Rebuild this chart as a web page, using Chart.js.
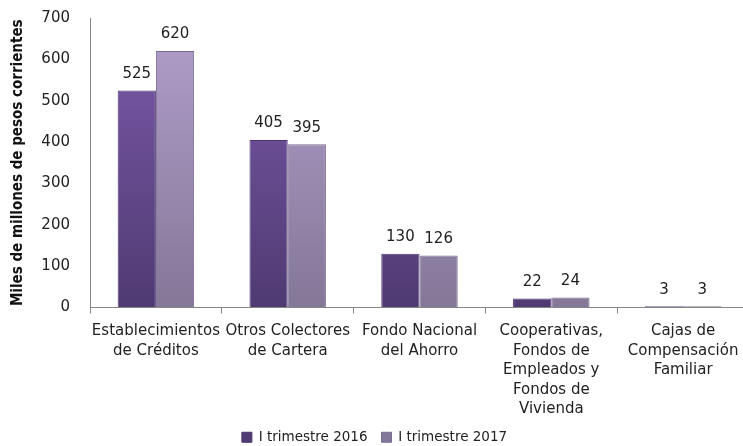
<!DOCTYPE html>
<html>
<head>
<meta charset="utf-8">
<script src="https://cdn.jsdelivr.net/npm/chart.js@4"></script>
<style>
  html, body { margin: 0; padding: 0; background: #fff; overflow: hidden; }
  #wrap { width: 749px; height: 446px; }
</style>
</head>
<body>
<div id="wrap"><canvas id="chart"></canvas></div>
<script>
// ===== DATA =====
const categories = [
  ["Establecimientos", "de Créditos"],
  ["Otros Colectores", "de Cartera"],
  ["Fondo Nacional", "del Ahorro"],
  ["Cooperativas,", "Fondos de", "Empleados y", "Fondos de", "Vivienda"],
  ["Cajas de", "Compensación", "Familiar"]
];
const trimestre2016 = [525, 405, 130, 22, 3];
const trimestre2017 = [620, 395, 126, 24, 3];
const seriesNames = ["I trimestre 2016", "I trimestre 2017"];
const yTitle = "Miles de millones de pesos corrientes";

const FONT = "'DejaVu Sans', sans-serif";
const TITLE_FONT = "'DejaVu Sans Condensed', 'DejaVu Sans', sans-serif";

// vertical gradient for bars
function barGradient(top, bottom) {
  return (ctx) => {
    const chart = ctx.chart;
    const area = chart.chartArea;
    if (!area) return bottom;
    const g = chart.ctx.createLinearGradient(0, area.top, 0, area.bottom);
    g.addColorStop(0, top);
    g.addColorStop(1, bottom);
    return g;
  };
}

// ===== VALUE LABELS PLUGIN =====
const valueLabels = {
  id: "valueLabels",
  afterDatasetsDraw(chart) {
    const ctx = chart.ctx;
    ctx.save();
    ctx.font = "15px " + FONT;
    ctx.fillStyle = "#222";
    ctx.textAlign = "center";
    ctx.textBaseline = "bottom";
    chart.data.datasets.forEach((ds, i) => {
      chart.getDatasetMeta(i).data.forEach((bar, j) => {
        ctx.fillText(ds.data[j], bar.x, bar.y - 9);
      });
    });
    ctx.restore();
  }
};

window.addEventListener("load", () => {
  const ctx = document.getElementById("chart").getContext("2d");
  new Chart(ctx, {
    type: "bar",
    data: {
      labels: categories,
      datasets: [
        {
          label: seriesNames[0],
          data: trimestre2016,
          backgroundColor: barGradient("#7d5aab", "#4f3a72"),
          borderColor: "#4a3470",
          borderWidth: 1,
          categoryPercentage: 0.58,
          barPercentage: 1.0
        },
        {
          label: seriesNames[1],
          data: trimestre2017,
          backgroundColor: barGradient("#b29fcc", "#847797"),
          borderColor: "#7a6c90",
          borderWidth: 1,
          categoryPercentage: 0.58,
          barPercentage: 1.0
        }
      ]
    },
    options: {
      responsive: true,
      maintainAspectRatio: false,
      animation: false,
      layout: { padding: { left: 0, right: 0, top: 18, bottom: -8 } },
      scales: {
        x: {
          afterFit: (scale) => { scale.height = 109; },
          grid: {
            offset: true,
            drawOnChartArea: false,
            color: "#868686",
            tickLength: 6
          },
          border: { color: "#868686" },
          ticks: {
            color: "#222",
            font: { family: FONT, size: 15, lineHeight: 1.3 },
            maxRotation: 0,
            autoSkip: false,
            padding: 8
          }
        },
        y: {
          min: 0,
          max: 700,
          afterFit: (scale) => { scale.width = 90; },
          ticks: {
            stepSize: 100,
            color: "#222",
            font: { family: FONT, size: 15 },
            padding: 4
          },
          grid: {
            drawOnChartArea: false,
            drawTicks: true,
            tickLength: 16,
            tickColor: "rgba(0,0,0,0)",
            color: "#868686"
          },
          border: { color: "#868686" },
          title: {
            display: true,
            text: yTitle,
            color: "#111",
            font: { family: TITLE_FONT, size: 15, weight: "bold" },
            padding: { top: 9, bottom: 0 }
          }
        }
      },
      plugins: {
        legend: {
          position: "bottom",
          align: "center",
          labels: {
            color: "#222",
            font: { family: FONT, size: 13.5 },
            boxWidth: 10,
            boxHeight: 10,
            padding: 14
          }
        },
        tooltip: { enabled: false }
      }
    },
    plugins: [valueLabels]
  });
});
</script>
</body>
</html>
